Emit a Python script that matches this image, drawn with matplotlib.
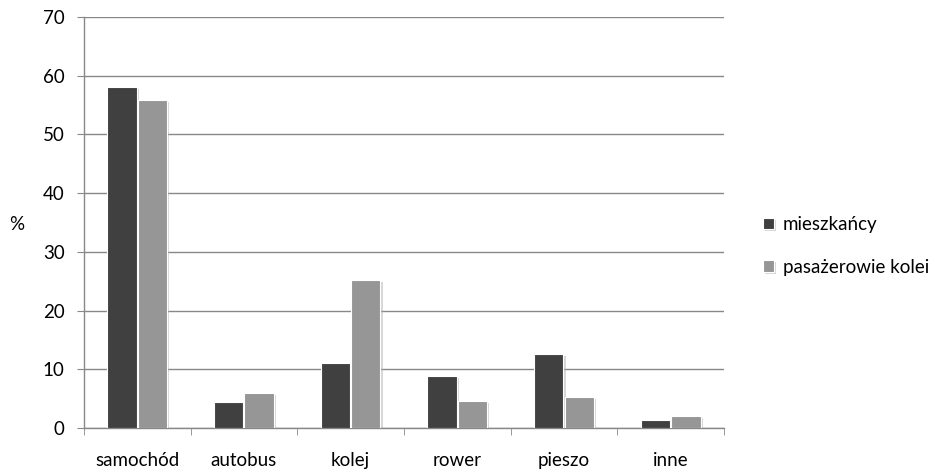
import matplotlib
matplotlib.use("Agg")
import matplotlib.pyplot as plt
import matplotlib.patheffects as pe
import numpy as np

categories = ["samochód", "autobus", "kolej", "rower", "pieszo", "inne"]
mieszkancy = [58.1, 4.5, 11.0, 8.9, 12.6, 1.4]
pasazerowie = [55.9, 5.9, 25.2, 4.6, 5.3, 2.0]
series_names = ["mieszkańcy", "pasażerowie kolei"]

plt.rcParams["font.family"] = ["Lato", "DejaVu Sans"]
fs = 13.5

fig = plt.figure(figsize=(9.35, 4.72), dpi=100)
ax = fig.add_axes([0.0898, 0.0932, 0.6845, 0.8708])

x = np.arange(len(categories))
w = 0.275
shadow = [pe.SimplePatchShadow(offset=(1.5, -1.5), shadow_rgbFace="#b0b0b0", alpha=0.5), pe.Normal()]
b1 = ax.bar(x - w / 2 - 0.005, mieszkancy, w, color="#404040", edgecolor="white",
            linewidth=0.8, zorder=3, label=series_names[0])
b2 = ax.bar(x + w / 2 + 0.005, pasazerowie, w, color="#969696", edgecolor="white",
            linewidth=0.8, zorder=3, label=series_names[1])
for bar in list(b1) + list(b2):
    bar.set_path_effects(shadow)

ax.set_xlim(-0.5, len(categories) - 0.5)
ax.set_ylim(0, 70)
ax.set_yticks(np.arange(0, 71, 10))
ax.yaxis.grid(True, color="#888888", linewidth=1.0, zorder=0)
ax.set_axisbelow(True)

ax.set_xticks(x)
ax.set_xticklabels(categories)
ax.set_xticks(np.arange(-0.5, len(categories)), minor=True)
ax.tick_params(axis="x", which="major", length=0, pad=17, labelsize=fs, colors="black")
ax.tick_params(axis="x", which="minor", length=5, color="#888888", direction="out")
ax.tick_params(axis="y", length=5, color="#888888", pad=9, labelsize=fs)

for s in ["top", "right"]:
    ax.spines[s].set_visible(False)
for s in ["left", "bottom"]:
    ax.spines[s].set_color("#888888")
    ax.spines[s].set_linewidth(1.0)

fig.text(17 / 935, 1 - 225 / 472, "%", fontsize=fs, ha="center", va="center")

ax.legend(loc="center left", bbox_to_anchor=(1.035, 0.443), frameon=False,
          fontsize=fs, handlelength=0.55, handleheight=0.55, handletextpad=0.5,
          labelspacing=1.35)

fig.savefig("out.png", dpi=100)
